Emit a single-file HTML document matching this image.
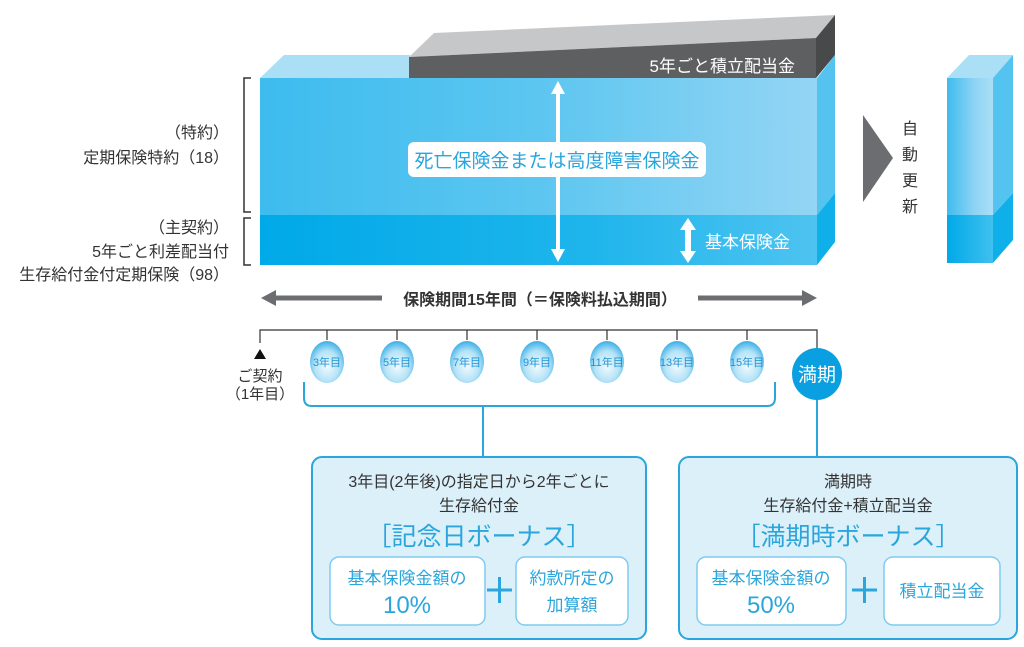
<!DOCTYPE html>
<html><head><meta charset="utf-8"><style>
html,body{margin:0;padding:0;background:#fff;}
svg{display:block;font-family:"Liberation Sans","Noto Sans CJK JP",sans-serif;}
</style></head><body>
<svg width="1024" height="647" viewBox="0 0 1024 647" xmlns="http://www.w3.org/2000/svg">
<defs>
<linearGradient id="up" x1="0" x2="1"><stop offset="0" stop-color="#3dbcee"/><stop offset="0.5" stop-color="#5cc6f0"/><stop offset="1" stop-color="#94d5f4"/></linearGradient>
<linearGradient id="lo" x1="0" x2="1"><stop offset="0" stop-color="#00a9e8"/><stop offset="0.6" stop-color="#1fb5ec"/><stop offset="1" stop-color="#4ec3f0"/></linearGradient>
<linearGradient id="su" x1="0" x2="1"><stop offset="0" stop-color="#3dbcee"/><stop offset="0.6" stop-color="#8fd3f4"/><stop offset="1" stop-color="#aadff6"/></linearGradient>
<linearGradient id="sl" x1="0" x2="1"><stop offset="0" stop-color="#00a9e8"/><stop offset="1" stop-color="#40c0ef"/></linearGradient>
<radialGradient id="ball" cx="0.5" cy="0.6" r="0.6"><stop offset="0" stop-color="#f2fafe"/><stop offset="0.6" stop-color="#b5e3f7"/><stop offset="1" stop-color="#3aaee6"/></radialGradient>
</defs>

<polygon points="260,78 284,55 410,55 410,78" fill="#aadff6"/>
<polygon points="409,57 434,33 835,15 816,38" fill="#c6c7c9"/>
<polygon points="409,57 816,38 816,78 409,78" fill="#5e5f61"/>
<polygon points="816,38 835,15 835,55 816,78" fill="#48494b"/>
<rect x="260" y="78" width="557" height="137" fill="url(#up)"/>
<rect x="260" y="215" width="557" height="50" fill="url(#lo)"/>
<polygon points="817,78 835,55 835,193 817,215" fill="#55c3f0"/>
<polygon points="817,215 835,193 835,242 817,265" fill="#0fb0ea"/>
<text x="795" y="72" font-size="17" fill="#fff" text-anchor="end">5年ごと積立配当金</text>

<line x1="558" y1="92" x2="558" y2="250" stroke="#fff" stroke-width="4"/>
<polygon points="558,81 551,94 565,94" fill="#fff"/>
<polygon points="558,262 551,249 565,249" fill="#fff"/>
<rect x="408" y="142" width="298" height="35" rx="6" fill="#fff"/>
<text x="557" y="167" font-size="19" fill="#2aa6dc" text-anchor="middle">死亡保険金または高度障害保険金</text>
<line x1="688" y1="228" x2="688" y2="254" stroke="#fff" stroke-width="6"/>
<polygon points="688,218 680,230 696,230" fill="#fff"/>
<polygon points="688,263 680,251 696,251" fill="#fff"/>
<text x="705" y="248" font-size="17" fill="#fff">基本保険金</text>

<path d="M251,78 H244 V212 H251" fill="none" stroke="#333" stroke-width="1.5"/>
<path d="M251,218 H244 V265 H251" fill="none" stroke="#333" stroke-width="1.5"/>
<g font-size="16" fill="#333" text-anchor="end">
<text x="229" y="138">（特約）</text>
<text x="229" y="163">定期保険特約（18）</text>
<text x="229" y="233">（主契約）</text>
<text x="229" y="257">5年ごと利差配当付</text>
<text x="229" y="280">生存給付金付定期保険（98）</text>
</g>

<polygon points="863,115 863,202 893,158" fill="#6c6d70"/>
<g font-size="16" fill="#333" text-anchor="middle">
<text x="910" y="134">自</text><text x="910" y="160">動</text><text x="910" y="186">更</text><text x="910" y="212">新</text>
</g>
<polygon points="947,78 969,55 1013,55 993,78" fill="#aadff6"/>
<rect x="947" y="78" width="46" height="137" fill="url(#su)"/>
<rect x="947" y="215" width="46" height="48" fill="url(#sl)"/>
<polygon points="993,78 1013,55 1013,193 993,215" fill="#55c3f0"/>
<polygon points="993,215 1013,193 1013,240 993,263" fill="#0fb0ea"/>

<line x1="272" y1="298" x2="805" y2="298" stroke="#6c6d70" stroke-width="5"/>
<polygon points="261,298 276,290 276,306" fill="#6c6d70"/>
<polygon points="817,298 802,290 802,306" fill="#6c6d70"/>
<rect x="382" y="286" width="316" height="24" fill="#fff"/>
<text x="540" y="305" font-size="16" font-weight="bold" fill="#333" text-anchor="middle">保険期間15年間（＝保険料払込期間）</text>

<g stroke="#333" stroke-width="1.2" fill="none">
<path d="M260,343 V330 H817 V350"/>
<path d="M327,330 V340 M397,330 V340 M467,330 V340 M537,330 V340 M607,330 V340 M677,330 V340 M747,330 V340"/>
</g>
<polygon points="260,349 254,359 266,359" fill="#111"/>
<text x="260" y="381" font-size="15" fill="#333" text-anchor="middle">ご契約</text>
<text x="260" y="399" font-size="15" fill="#333" text-anchor="middle">（1年目）</text>
<g font-size="11" fill="#1e94d4" text-anchor="middle">
<ellipse cx="327" cy="362" rx="17" ry="21" fill="url(#ball)"/><text x="327" y="366">3年目</text>
<ellipse cx="397" cy="362" rx="17" ry="21" fill="url(#ball)"/><text x="397" y="366">5年目</text>
<ellipse cx="467" cy="362" rx="17" ry="21" fill="url(#ball)"/><text x="467" y="366">7年目</text>
<ellipse cx="537" cy="362" rx="17" ry="21" fill="url(#ball)"/><text x="537" y="366">9年目</text>
<ellipse cx="607" cy="362" rx="17" ry="21" fill="url(#ball)"/><text x="607" y="366">11年目</text>
<ellipse cx="677" cy="362" rx="17" ry="21" fill="url(#ball)"/><text x="677" y="366">13年目</text>
<ellipse cx="747" cy="362" rx="17" ry="21" fill="url(#ball)"/><text x="747" y="366">15年目</text>
</g>
<ellipse cx="817" cy="374" rx="25" ry="26" fill="#0a9fe0"/>
<text x="817" y="381" font-size="19" fill="#fff" text-anchor="middle">満期</text>
<path d="M304,382 V398 Q304,406 312,406 H767 Q775,406 775,398 V382" fill="none" stroke="#2aa6dc" stroke-width="2"/>
<line x1="483" y1="406" x2="483" y2="457" stroke="#2aa6dc" stroke-width="2"/>
<line x1="817" y1="400" x2="817" y2="457" stroke="#2aa6dc" stroke-width="2"/>

<rect x="312" y="457" width="334" height="182" rx="10" fill="#dcf0fa" stroke="#2aa6dc" stroke-width="2"/>
<rect x="679" y="457" width="338" height="182" rx="10" fill="#dcf0fa" stroke="#2aa6dc" stroke-width="2"/>
<g font-size="16" fill="#333" text-anchor="middle">
<text x="479" y="487">3年目(2年後)の指定日から2年ごとに</text>
<text x="479" y="511">生存給付金</text>
<text x="848" y="487">満期時</text>
<text x="848" y="511">生存給付金+積立配当金</text>
</g>
<g font-size="25" fill="#2aa6dc" text-anchor="middle">
<text x="479" y="545">［記念日ボーナス］</text>
<text x="848" y="545">［満期時ボーナス］</text>
</g>
<g fill="#fff" stroke="#7fcbef" stroke-width="1.5">
<rect x="330" y="557" width="155" height="68" rx="9"/>
<rect x="516" y="557" width="112" height="68" rx="9"/>
<rect x="697" y="557" width="149" height="68" rx="9"/>
<rect x="884" y="557" width="116" height="68" rx="9"/>
</g>
<g fill="#2aa6dc" text-anchor="middle">
<text x="407" y="584" font-size="17">基本保険金額の</text>
<text x="407" y="613" font-size="24">10%</text>
<text x="572" y="584" font-size="17">約款所定の</text>
<text x="572" y="611" font-size="17">加算額</text>
<text x="771" y="584" font-size="17">基本保険金額の</text>
<text x="771" y="613" font-size="24">50%</text>
<text x="942" y="597" font-size="17">積立配当金</text>
</g>
<g stroke="#2aa6dc" stroke-width="3">
<path d="M487,590 H512 M499.5,577 V603"/>
<path d="M852,590 H877 M864.5,577 V603"/>
</g>
</svg>
</body></html>
